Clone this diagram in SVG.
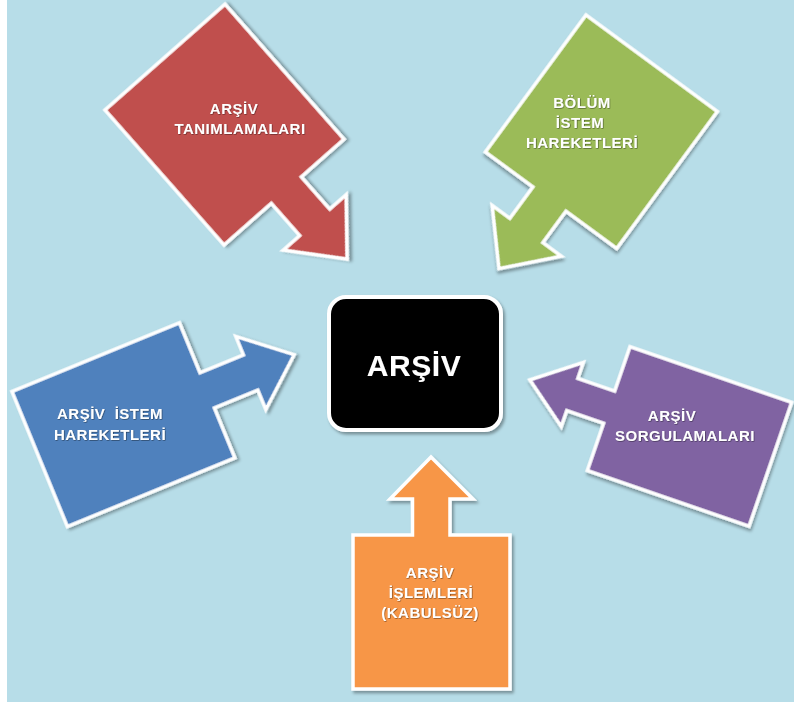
<svg xmlns="http://www.w3.org/2000/svg" width="794" height="703" viewBox="0 0 794 703">
  <defs>
    <filter id="shadow" x="-20%" y="-20%" width="140%" height="140%">
      <feDropShadow dx="2" dy="2.5" stdDeviation="1.5" flood-color="#000" flood-opacity="0.35"/>
    </filter>
    <filter id="tshadow" x="-10%" y="-30%" width="120%" height="160%">
      <feDropShadow dx="0.6" dy="0.6" stdDeviation="0.6" flood-color="#000" flood-opacity="0.55"/>
    </filter>
    <style>
      .shape { stroke: #ffffff; stroke-width: 3.5; stroke-linejoin: miter; filter: url(#shadow); }
      .lbl { font-family: "Liberation Sans", Arial, sans-serif; font-weight: bold; font-size: 15px; fill: #ffffff; letter-spacing: 0.5px; text-anchor: middle; filter: url(#tshadow); }
      .big { font-size: 30px; letter-spacing: 0.6px; }
    </style>
  </defs>

  <rect x="0" y="0" width="794" height="703" fill="#ffffff"/>
  <rect x="7" y="0" width="787" height="702" fill="#b7dde8"/>

  <g id="connectors"/>

  <g id="node-tanimlamalari">
    <polygon class="shape" fill="#c0504d" transform="translate(105,110) rotate(-41.4)"
      points="0,0 160,0 160,180 103,180 103,223 125,223 83,272 41,223 63,223 63,180 0,180"/>
    <text class="lbl" x="234" y="114">ARŞİV</text>
    <text class="lbl" x="240" y="134">TANIMLAMALARI</text>
  </g>

  <g id="node-bolum-istem">
    <polygon class="shape" fill="#9bbb59" transform="translate(586,15) rotate(36.3)"
      points="0,0 163,0 163,170 100,170 100,209 123,209 80,256 37,209 59,209 59,170 0,170"/>
    <text class="lbl" x="582" y="108">BÖLÜM</text>
    <text class="lbl" x="580" y="128">İSTEM</text>
    <text class="lbl" x="582" y="148">HAREKETLERİ</text>
  </g>

  <g id="node-arsiv-istem">
    <polygon class="shape" fill="#4f81bd" transform="translate(12,391.5) rotate(-22.3)"
      points="0,0 181,0 181,54 228,54 228,34 275,73 228,113 228,92 181,92 181,146 0,146"/>
    <text class="lbl" x="110" y="419" xml:space="preserve">ARŞİV  İSTEM</text>
    <text class="lbl" x="110" y="440">HAREKETLERİ</text>
  </g>

  <g id="node-sorgulamalari">
    <polygon class="shape" fill="#8064a2" transform="translate(630,346.7) rotate(19)"
      points="0,0 171,0 171,131 0,131 0,81 -39,81 -39,98 -84,64 -39,30 -39,47 0,47"/>
    <text class="lbl" x="672" y="421">ARŞİV</text>
    <text class="lbl" x="685" y="441">SORGULAMALARI</text>
  </g>

  <g id="node-islemleri">
    <polygon class="shape" fill="#f79646"
      points="353,535 412.5,535 412.5,499 390,499 431,457 473,499 450,499 450,535 510,535 510,689 353,689"/>
    <text class="lbl" x="430" y="578">ARŞİV</text>
    <text class="lbl" x="431" y="598">İŞLEMLERİ</text>
    <text class="lbl" x="430" y="618">(KABULSÜZ)</text>
  </g>

  <g id="node-arsiv">
    <rect x="329" y="297" width="172" height="133" rx="17" ry="17" fill="#000000" stroke="#ffffff" stroke-width="4" filter="url(#shadow)"/>
    <text class="lbl big" x="414" y="376">ARŞİV</text>
  </g>
</svg>
